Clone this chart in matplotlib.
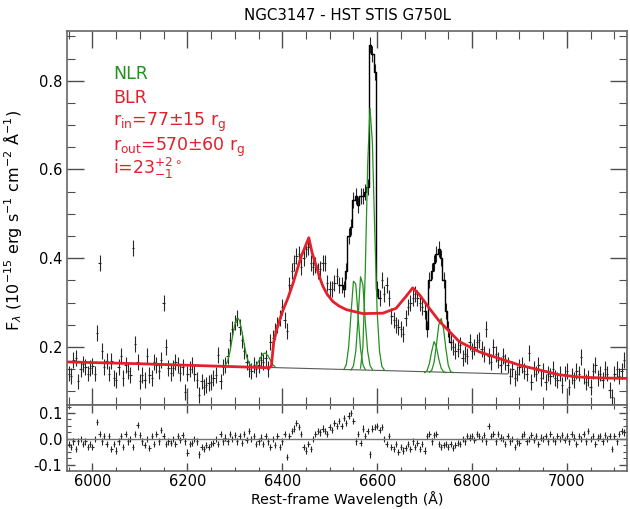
import numpy as np
import matplotlib
matplotlib.use("Agg")
import matplotlib.pyplot as plt
from matplotlib.ticker import MultipleLocator, FormatStrFormatter

# wavelength grid of the spectrum (5 A pixels)
wave = np.arange(5950, 7121, 5)

flux = np.array([
    0.140, 0.135, 0.170, 0.175, 0.122, 0.150, 0.162, 0.155, 0.140, 0.152,
    0.158, 0.140, 0.232, 0.389, 0.190, 0.155, 0.168, 0.140, 0.168, 0.130,
    0.125, 0.155, 0.180, 0.130, 0.160, 0.145, 0.137, 0.423, 0.206, 0.165,
    0.122, 0.137, 0.125, 0.180, 0.137, 0.130, 0.165, 0.160, 0.145, 0.170,
    0.300, 0.200, 0.152, 0.141, 0.152, 0.166, 0.160, 0.142, 0.155, 0.099,
    0.140, 0.150, 0.160, 0.140, 0.125, 0.092, 0.122, 0.110, 0.115, 0.118,
    0.120, 0.130, 0.137, 0.182, 0.122, 0.155, 0.160, 0.180, 0.215, 0.240,
    0.255, 0.265, 0.245, 0.215, 0.190, 0.165, 0.150, 0.145, 0.160, 0.150,
    0.160, 0.170, 0.165, 0.175, 0.150, 0.210, 0.220, 0.235, 0.250, 0.265,
    0.290, 0.260, 0.235, 0.340, 0.370, 0.390, 0.405, 0.410, 0.380, 0.400,
    0.420, 0.425, 0.390, 0.380, 0.385, 0.370, 0.375, 0.390, 0.390, 0.345,
    0.330, 0.330, 0.345, 0.360, 0.340, 0.340, 0.330, 0.370, 0.450, 0.470,
    0.530, 0.540, 0.520, 0.540, 0.540, 0.550, 0.560, 0.880, 0.860, 0.820,
    0.330, 0.310, 0.350, 0.320, 0.340, 0.310, 0.270, 0.260, 0.250, 0.245,
    0.240, 0.230, 0.265, 0.290, 0.300, 0.310, 0.320, 0.310, 0.300, 0.290,
    0.280, 0.240, 0.350, 0.370, 0.390, 0.410, 0.420, 0.400, 0.350, 0.280,
    0.240, 0.210, 0.200, 0.190, 0.195, 0.205, 0.175, 0.185, 0.180, 0.210,
    0.190, 0.200, 0.210, 0.215, 0.195, 0.185, 0.240, 0.180, 0.165, 0.200,
    0.185, 0.170, 0.160, 0.180, 0.165, 0.160, 0.135, 0.150, 0.130, 0.140,
    0.155, 0.160, 0.145, 0.140, 0.186, 0.120, 0.150, 0.140, 0.160, 0.130,
    0.145, 0.120, 0.140, 0.135, 0.150, 0.130, 0.125, 0.140, 0.115, 0.140,
    0.145, 0.110, 0.135, 0.125, 0.145, 0.140, 0.178, 0.135, 0.120, 0.130,
    0.110, 0.145, 0.160, 0.130, 0.140, 0.125, 0.150, 0.140, 0.103, 0.088,
    0.140, 0.150, 0.135, 0.145, 0.170,
])

resid = np.array([
    -0.020, -0.030, -0.010, -0.040, -0.010, 0.000, -0.020, -0.010, -0.030, -0.020,
    -0.030, 0.000, 0.066, 0.020, -0.010, 0.010, -0.020, 0.010, -0.040, -0.020,
    -0.045, -0.010, 0.010, -0.030, 0.020, -0.010, 0.000, -0.030, 0.020, 0.053,
    0.015, -0.010, -0.025, 0.000, -0.035, 0.010, -0.020, 0.020, -0.010, 0.035,
    0.010, -0.020, -0.010, -0.015, 0.000, -0.020, 0.010, -0.005, 0.015, -0.010,
    -0.053, -0.020, -0.015, 0.000, -0.010, -0.060, -0.030, -0.040, -0.025, -0.030,
    -0.020, -0.015, 0.000, -0.020, 0.020, -0.010, 0.005, -0.010, 0.020, 0.000,
    0.015, -0.010, 0.010, -0.015, 0.020, -0.005, 0.030, 0.000, 0.010, -0.020,
    -0.010, 0.005, -0.020, 0.010, -0.010, -0.030, 0.000, -0.025, 0.010, -0.030,
    -0.010, 0.020, -0.070, 0.010, 0.030, 0.040, 0.060, 0.045, 0.020, -0.030,
    -0.045, -0.020, -0.040, 0.000, 0.020, 0.030, 0.025, 0.040, 0.030, 0.020,
    0.045, 0.035, 0.060, 0.050, 0.070, 0.050, 0.080, 0.060, 0.090, 0.100,
    0.070, -0.010, 0.020, -0.015, 0.040, 0.010, 0.030, -0.060, 0.040, 0.045,
    0.050, 0.035, 0.045, 0.000, -0.020, 0.010, -0.030, -0.040, -0.020, -0.050,
    -0.030, -0.045, -0.035, -0.020, -0.040, -0.010, -0.030, -0.015, -0.040, -0.020,
    -0.045, 0.010, 0.020, -0.010, 0.015, 0.020, -0.020, -0.030, -0.025, -0.020,
    -0.030, -0.020, -0.035, -0.025, -0.015, -0.020, 0.000, -0.010, 0.010, 0.005,
    0.010, -0.005, 0.020, 0.010, 0.000, 0.015, -0.010, 0.050, 0.010, 0.020,
    -0.010, 0.020, 0.005, 0.000, -0.020, 0.010, -0.010, 0.000, -0.030, -0.010,
    -0.015, 0.010, 0.020, -0.010, 0.000, 0.015, -0.005, 0.010, -0.020, 0.005,
    0.000, 0.010, -0.010, 0.020, 0.000, -0.010, 0.010, 0.000, 0.015, -0.005,
    0.010, -0.010, 0.020, 0.005, -0.020, 0.010, 0.000, 0.020, -0.010, 0.030,
    0.000, 0.010, -0.020, 0.005, 0.010, -0.010, 0.015, 0.000, 0.010, -0.040,
    0.010, -0.010, 0.020, 0.030, 0.025,
])

# BLR disk model (incl. continuum)
blr_wave = [5950, 6100, 6250, 6372, 6377, 6382, 6388, 6395, 6402, 6412, 6423,
            6440, 6456, 6463, 6472, 6479, 6486, 6495, 6507, 6520, 6535, 6570,
            6612, 6640, 6661, 6675, 6689, 6710, 6731, 6752, 6773, 6815, 6857,
            6900, 6942, 6984, 7026, 7070, 7126]
blr_flux = [0.166, 0.162, 0.157, 0.153, 0.156, 0.210, 0.238, 0.262, 0.284,
            0.310, 0.344, 0.404, 0.446, 0.412, 0.381, 0.356, 0.336, 0.318,
            0.302, 0.292, 0.284, 0.275, 0.276, 0.287, 0.314, 0.333, 0.318,
            0.287, 0.258, 0.235, 0.212, 0.189, 0.174, 0.159, 0.148, 0.137,
            0.132, 0.130, 0.129]

# continuum under the narrow lines
cont_wave = [5950, 6875]
cont_flux = [0.166, 0.139]

# narrow line components: (first wavelength, values on the 5 A grid)
nlr_lines = {
    "OI6300": (6280, [0.158, 0.168, 0.190, 0.222, 0.250, 0.264, 0.260, 0.235,
                      0.205, 0.178, 0.163, 0.156]),
    "OI6364": (6340, [0.154, 0.158, 0.167, 0.177, 0.185, 0.186, 0.180, 0.170,
                      0.160, 0.155]),
    "NII6548": (6530, [0.149, 0.160, 0.200, 0.275, 0.348, 0.342, 0.268, 0.195,
                       0.160, 0.149]),
    "Ha": (6545, [0.148, 0.157, 0.190, 0.268, 0.358, 0.340, 0.258, 0.190,
                  0.158, 0.149]),
    "NII6583": (6565, [0.152, 0.200, 0.370, 0.610, 0.738, 0.660, 0.460, 0.280,
                       0.190, 0.156, 0.148]),
    "SII6716": (6700, [0.142, 0.146, 0.162, 0.190, 0.212, 0.200, 0.172, 0.152,
                       0.144, 0.142]),
    "SII6731": (6710, [0.143, 0.147, 0.165, 0.205, 0.250, 0.264, 0.240, 0.195,
                       0.158, 0.144, 0.142]),
}

red = "#e3202b"
green = "#23901f"

fig = plt.figure(figsize=(6.3, 5.09), dpi=100)
ax = fig.add_axes([0.1068, 0.2043, 0.888, 0.7348])
axr = fig.add_axes([0.1068, 0.0747, 0.888, 0.1297], sharex=ax)

ax.errorbar(wave, flux, yerr=0.018, xerr=2.5, fmt="none", ecolor="0.15",
            elinewidth=0.8, capsize=0, zorder=2)
for lo, hi in [(6520, 6605), (6700, 6755)]:
    m = (wave >= lo) & (wave <= hi)
    ax.step(wave[m], flux[m], where="mid", color="k", lw=1.0, zorder=3)

ax.plot(cont_wave, cont_flux, color="0.35", lw=0.8, zorder=3)
for name, (start, vals) in nlr_lines.items():
    x = start + 5 * np.arange(len(vals))
    ax.plot(x, vals, color=green, lw=0.9, zorder=4)
ax.plot(blr_wave, blr_flux, color=red, lw=2.0, zorder=5)

txt = dict(fontsize=12.5, transform=ax.transAxes, va="center")
ax.text(0.082, 0.886, "NLR", color=green, **txt)
ax.text(0.082, 0.822, "BLR", color=red, **txt)
ax.text(0.082, 0.755, r"r$_{\rm in}$=77$\pm$15 r$_{\rm g}$", color=red, **txt)
ax.text(0.082, 0.69, r"r$_{\rm out}$=570$\pm$60 r$_{\rm g}$", color=red, **txt)
ax.text(0.082, 0.632, r"i=23$^{+2\circ}_{-1}$", color=red, **txt)

ax.set_xlim(5947, 7126)
ax.set_ylim(0.069, 0.912)
ax.yaxis.set_major_locator(MultipleLocator(0.2))
ax.yaxis.set_minor_locator(MultipleLocator(0.05))
ax.xaxis.set_major_locator(MultipleLocator(200))
ax.xaxis.set_minor_locator(MultipleLocator(50))
ax.yaxis.set_major_formatter(FormatStrFormatter("%.1f"))
ax.tick_params(labelbottom=False)
ax.set_title("NGC3147 - HST STIS G750L", fontsize=10.8, pad=8)

axr.errorbar(wave, resid, yerr=0.012, xerr=2.5, fmt="none", ecolor="0.15",
             elinewidth=0.8, capsize=0)
axr.axhline(0, color="0.45", lw=1.0)
axr.set_ylim(-0.124, 0.131)
axr.yaxis.set_major_locator(MultipleLocator(0.1))
axr.yaxis.set_minor_locator(MultipleLocator(0.025))
axr.yaxis.set_major_formatter(FormatStrFormatter("%.1f"))

for a, big, small in [(ax, 12, 6), (axr, 6, 3)]:
    a.tick_params(which="both", direction="in", top=True, right=True,
                  labelsize=10.5, color="0.3")
    a.tick_params(which="major", length=big, width=1)
    a.tick_params(which="minor", length=small, width=0.8)
    a.tick_params(axis="x", pad=2.5)
    for s in a.spines.values():
        s.set_color("0.4")
        s.set_linewidth(1.2)

fig.text(0.5 * (0.1068 + 0.9948), 1 - 499 / 509,
         "Rest-frame Wavelength (\u00c5)", ha="center", va="center",
         fontsize=10.2)
fig.text(0.02, 1 - 220 / 509,
         r"F$_\lambda$ (10$^{-15}$ erg s$^{-1}$ cm$^{-2}$ $\rm\AA^{-1}$)",
         rotation=90, ha="center", va="center", fontsize=11.5)

fig.savefig("out.png", dpi=100)
